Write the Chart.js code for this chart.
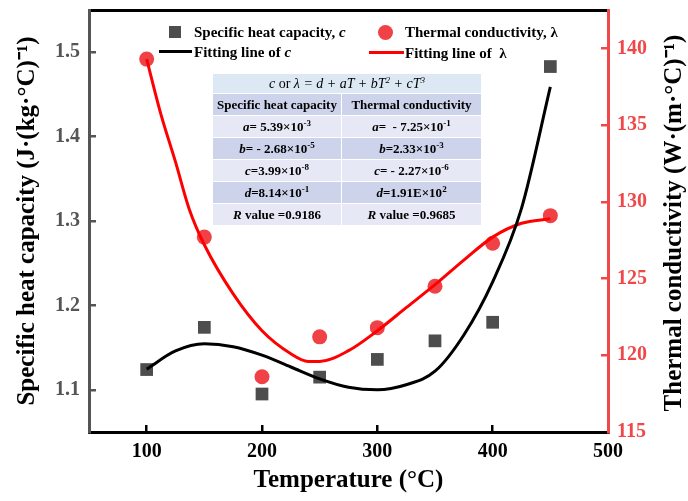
<!DOCTYPE html>
<html>
<head>
<meta charset="utf-8">
<script src="https://cdn.jsdelivr.net/npm/chart.js@4.4.1/dist/chart.umd.min.js"></script>
<style>
  body { margin: 0; background: #fff; }
  #wrap { position: relative; width: 688px; height: 501px; font-family: "Liberation Serif", "Times New Roman", serif; }
  #wrap canvas { position: absolute; left: 0; top: 0; }
  .lg { position: absolute; font-size: 15px; font-weight: bold; color: #000; line-height: 16px; white-space: nowrap; }
  .mk { position: absolute; }
  #tbl { position: absolute; left: 213px; top: 74px; width: 268px; font-size: 13px; font-weight: bold; color: #000; }
  .row { display: flex; height: 21px; margin-bottom: 1px; }
  .row div { line-height: 21px; text-align: center; white-space: nowrap; }
  .row div:first-child { width: 128px; margin-right: 1px; }
  .row div:last-child { flex: 1; }
  .lt div { background: #e6e9f5; }
  .dk div { background: #ccd3ea; }
  .head { height: 19px; line-height: 19px; margin-bottom: 1px; background: #dce9f5; text-align: center; font-weight: normal; font-size: 14px; font-style: italic; white-space: nowrap; }
  sup { font-size: 9px; vertical-align: 5px; line-height: 0; }
</style>
</head>
<body>
<div id="wrap">
  <canvas id="chart" width="688" height="501"></canvas>

  <div class="mk" style="left:169px;top:26px;width:12px;height:12px;background:#4d4d4d"></div>
  <div class="lg" style="left:194px;top:24px">Specific heat capacity, <i>c</i></div>
  <div class="mk" style="left:378px;top:25px;width:15px;height:15px;border-radius:50%;background:#ef4146"></div>
  <div class="lg" style="left:405px;top:24px">Thermal conductivity, λ</div>
  <div class="mk" style="left:159px;top:50px;width:33px;height:3px;background:#000"></div>
  <div class="lg" style="left:194px;top:44px">Fitting line of <i>c</i></div>
  <div class="mk" style="left:369px;top:51px;width:35px;height:3px;background:#ff0000"></div>
  <div class="lg" style="left:405px;top:45px">Fitting line of &nbsp;λ</div>

  <div id="tbl">
    <div class="head">c <span style="font-style:normal">or</span> λ = d + aT + bT<sup>2</sup> + cT<sup>3</sup></div>
    <div class="row dk"><div>Specific heat capacity</div><div>Thermal conductivity</div></div>
    <div class="row lt"><div><i>a</i>= 5.39×10<sup>-3</sup></div><div><i>a</i>= &nbsp;- 7.25×10<sup>-1</sup></div></div>
    <div class="row dk"><div><i>b</i>= - 2.68×10<sup>-5</sup></div><div><i>b</i>=2.33×10<sup>-3</sup></div></div>
    <div class="row lt"><div><i>c</i>=3.99×10<sup>-8</sup></div><div><i>c</i>= - 2.27×10<sup>-6</sup></div></div>
    <div class="row dk"><div><i>d</i>=8.14×10<sup>-1</sup></div><div><i>d</i>=1.91E×10<sup>2</sup></div></div>
    <div class="row lt"><div><i>R</i> value =0.9186</div><div><i>R</i> value =0.9685</div></div>
  </div>
</div>

<script>
// measured points
const temps = [100, 150, 200, 250, 300, 350, 400, 450];
const heatCap = [1.124, 1.174, 1.095, 1.115, 1.136, 1.158, 1.180, 1.483];
const thermCond = [139.3, 127.7, 118.6, 121.2, 121.8, 124.5, 127.3, 129.1];

// fitting curves
const fitTempsC = [100, 125, 150, 175, 200, 225, 250, 275, 300, 325, 350, 375, 400, 425, 450];
const fitC = [1.1245, 1.146, 1.1545, 1.151, 1.141, 1.127, 1.113, 1.103, 1.100, 1.106, 1.122, 1.165, 1.228, 1.315, 1.459];
const fitTempsL = [100, 112, 125, 137, 150, 175, 200, 225, 240, 250, 275, 300, 325, 350, 375, 400, 425, 450];
const fitL = [139.3, 135.8, 132.6, 129.5, 127.2, 124.0, 121.6, 120.1, 119.6, 119.6, 120.3, 121.6, 123.1, 124.6, 126.2, 127.7, 128.6, 128.9];

// tick labels
const xTicks = [100, 200, 300, 400, 500];
const yTicks = [1.1, 1.2, 1.3, 1.4, 1.5];
const y2Ticks = [115, 120, 125, 130, 135, 140];

const RED = '#f04848';
const GREY = '#555555';
const FONT = '"Liberation Serif", "Times New Roman", serif';
Chart.defaults.font.family = FONT;

const pts = (xs, ys) => xs.map((x, i) => ({ x: x, y: ys[i] }));

// fixed axis sizes so the plot box lands where the reference has it
const fixSize = (w, h) => (s) => {
  if (w !== null) s.width = w;
  if (h !== null) s.height = h;
  s.paddingTop = 0;
  s.paddingBottom = 0;
  s.paddingLeft = 0;
  s.paddingRight = 0;
};

// right axis title reads bottom to top
const rightTitle = {
  id: 'rightTitle',
  afterDraw(chart) {
    const ctx = chart.ctx;
    ctx.save();
    ctx.translate(675, 223);
    ctx.rotate(-Math.PI / 2);
    ctx.font = 'bold 25px ' + FONT;
    ctx.fillStyle = '#000';
    ctx.textAlign = 'center';
    ctx.textBaseline = 'middle';
    ctx.fillText('Thermal conductivity (W·(m·°C)⁻¹)', 0, 0);
    ctx.restore();
  }
};

const ctx = document.getElementById('chart').getContext('2d');
new Chart(ctx, {
  type: 'scatter',
  data: {
    datasets: [
      {
        label: 'Fitting line of c',
        data: pts(fitTempsC, fitC),
        yAxisID: 'y',
        showLine: true,
        borderColor: '#000',
        borderWidth: 3,
        pointRadius: 0,
        cubicInterpolationMode: 'monotone',
        order: 0
      },
      {
        label: 'Fitting line of λ',
        data: pts(fitTempsL, fitL),
        yAxisID: 'y2',
        showLine: true,
        borderColor: '#ff0000',
        borderWidth: 3,
        pointRadius: 0,
        cubicInterpolationMode: 'monotone',
        order: 0
      },
      {
        label: 'Specific heat capacity, c',
        data: pts(temps, heatCap),
        yAxisID: 'y',
        pointStyle: 'rect',
        pointRadius: 9,
        pointBorderWidth: 0,
        backgroundColor: '#4d4d4d',
        order: 1
      },
      {
        label: 'Thermal conductivity, λ',
        data: pts(temps, thermCond),
        yAxisID: 'y2',
        pointStyle: 'circle',
        pointRadius: 7.5,
        pointBorderWidth: 0,
        backgroundColor: '#ef4146',
        order: 1
      }
    ]
  },
  options: {
    responsive: false,
    animation: false,
    layout: { padding: 0 },
    plugins: { legend: { display: false }, tooltip: { enabled: false } },
    scales: {
      x: {
        type: 'linear',
        position: 'bottom',
        min: 50,
        max: 500,
        afterBuildTicks: (s) => { s.ticks = xTicks.map((v) => ({ value: v })); },
        afterFit: fixSize(null, 69),
        grid: { drawOnChartArea: false, tickLength: -7, color: '#000', lineWidth: 2.5 },
        border: { color: '#000', width: 3 },
        ticks: { color: '#000', font: { size: 20, weight: 'bold' }, padding: 15 },
        title: {
          display: true,
          text: 'Temperature (°C)',
          color: '#000',
          font: { size: 25, weight: 'bold' },
          padding: { top: 0, bottom: 5 }
        }
      },
      xTop: {
        type: 'linear',
        position: 'top',
        min: 50,
        max: 500,
        afterFit: fixSize(null, 10),
        ticks: { display: false },
        grid: { drawOnChartArea: false, drawTicks: false },
        border: { color: '#000', width: 3 }
      },
      y: {
        type: 'linear',
        position: 'left',
        min: 1.05,
        max: 1.55,
        afterBuildTicks: (s) => { s.ticks = yTicks.map((v) => ({ value: v })); },
        afterFit: fixSize(89, null),
        grid: { drawOnChartArea: false, tickLength: -7, color: GREY, lineWidth: 2.5 },
        border: { color: GREY, width: 3 },
        ticks: {
          color: GREY,
          font: { size: 20, weight: 'bold' },
          padding: 16,
          callback: (v) => v.toFixed(1)
        },
        title: {
          display: true,
          text: 'Specific heat capacity (J·(kg·°C)⁻¹)',
          color: '#000',
          font: { size: 25, weight: 'bold' },
          padding: { top: 13, bottom: 0 }
        }
      },
      y2: {
        type: 'linear',
        position: 'right',
        min: 115,
        max: 142.5,
        afterBuildTicks: (s) => { s.ticks = y2Ticks.map((v) => ({ value: v })); },
        afterFit: fixSize(80, null),
        grid: { drawOnChartArea: false, tickLength: -7, color: RED, lineWidth: 2.5 },
        border: { color: RED, width: 3 },
        ticks: { color: RED, font: { size: 20, weight: 'bold' }, padding: 16 }
      }
    }
  },
  plugins: [rightTitle]
});
</script>
</body>
</html>
